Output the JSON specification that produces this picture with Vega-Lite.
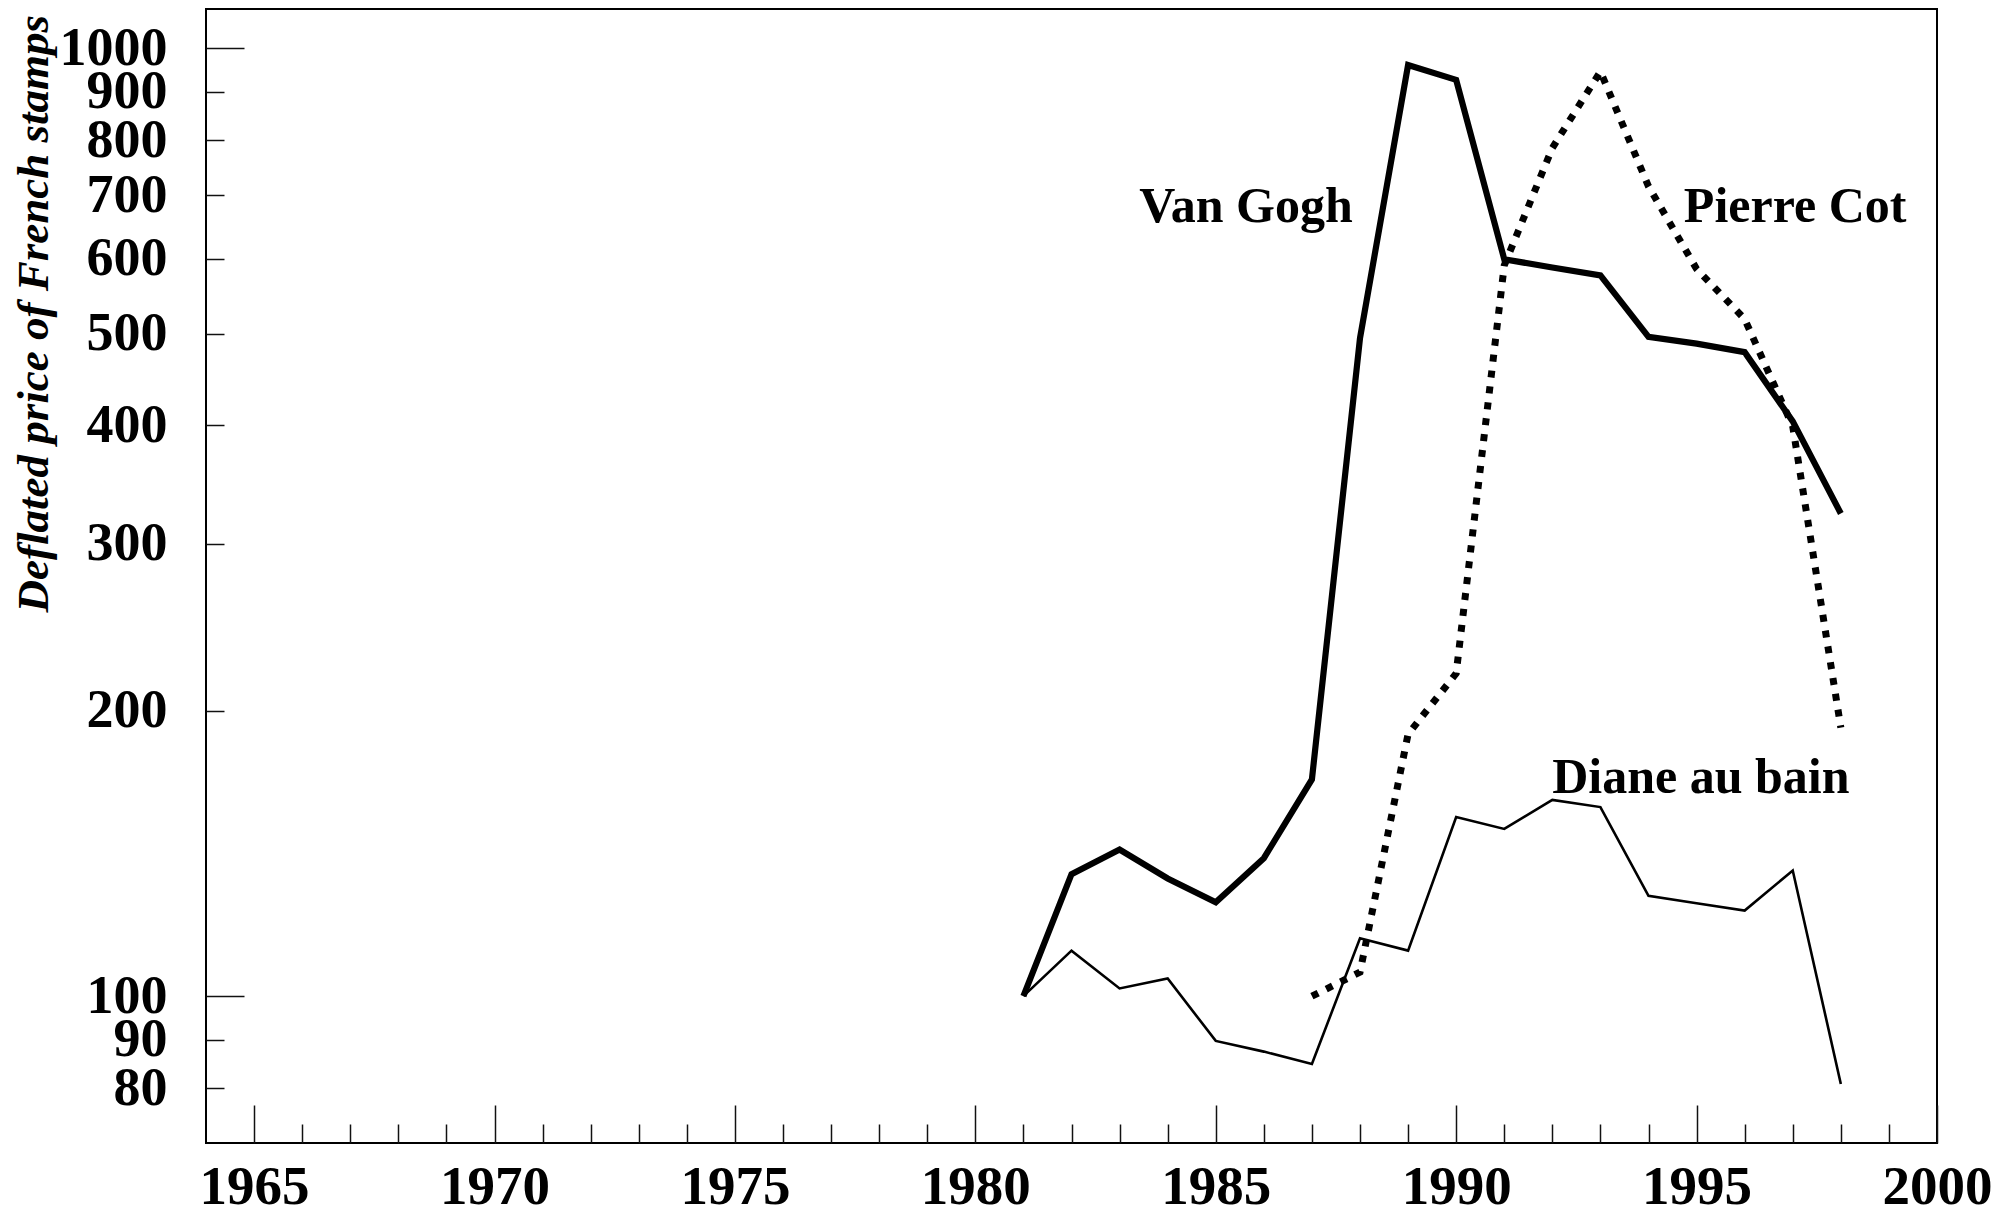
{
  "$schema": "https://vega.github.io/schema/vega-lite/v6.json",
  "autosize": "none",
  "padding": {"left": 206, "top": 9, "right": 62, "bottom": 70},
  "width": 1731,
  "height": 1134,
  "background": "white",
  "config": {
    "view": {"stroke": "#000", "strokeWidth": 2},
    "text": {"font": "Liberation Serif"}
  },
  "datasets": {
    "series": [
      {"series": "Van Gogh", "year": 1981, "price": 100},
      {"series": "Van Gogh", "year": 1982, "price": 134.5},
      {"series": "Van Gogh", "year": 1983, "price": 142.8},
      {"series": "Van Gogh", "year": 1984, "price": 133.1},
      {"series": "Van Gogh", "year": 1985, "price": 125.6},
      {"series": "Van Gogh", "year": 1986, "price": 139.8},
      {"series": "Van Gogh", "year": 1987, "price": 169.3},
      {"series": "Van Gogh", "year": 1988, "price": 494.5},
      {"series": "Van Gogh", "year": 1989, "price": 960},
      {"series": "Van Gogh", "year": 1990, "price": 926},
      {"series": "Van Gogh", "year": 1991, "price": 599},
      {"series": "Van Gogh", "year": 1992, "price": 587},
      {"series": "Van Gogh", "year": 1993, "price": 576},
      {"series": "Van Gogh", "year": 1994, "price": 496},
      {"series": "Van Gogh", "year": 1995, "price": 488},
      {"series": "Van Gogh", "year": 1996, "price": 478},
      {"series": "Van Gogh", "year": 1997, "price": 404},
      {"series": "Van Gogh", "year": 1998, "price": 323},
      {"series": "Pierre Cot", "year": 1987, "price": 100},
      {"series": "Pierre Cot", "year": 1988, "price": 106},
      {"series": "Pierre Cot", "year": 1989, "price": 189},
      {"series": "Pierre Cot", "year": 1990, "price": 219},
      {"series": "Pierre Cot", "year": 1991, "price": 590},
      {"series": "Pierre Cot", "year": 1992, "price": 785},
      {"series": "Pierre Cot", "year": 1993, "price": 945},
      {"series": "Pierre Cot", "year": 1994, "price": 715},
      {"series": "Pierre Cot", "year": 1995, "price": 585},
      {"series": "Pierre Cot", "year": 1996, "price": 518},
      {"series": "Pierre Cot", "year": 1997, "price": 399},
      {"series": "Pierre Cot", "year": 1998, "price": 192},
      {"series": "Diane au bain", "year": 1981, "price": 100},
      {"series": "Diane au bain", "year": 1982, "price": 111.7},
      {"series": "Diane au bain", "year": 1983, "price": 101.9},
      {"series": "Diane au bain", "year": 1984, "price": 104.4},
      {"series": "Diane au bain", "year": 1985, "price": 89.7},
      {"series": "Diane au bain", "year": 1986, "price": 87.4},
      {"series": "Diane au bain", "year": 1987, "price": 84.8},
      {"series": "Diane au bain", "year": 1988, "price": 115.1},
      {"series": "Diane au bain", "year": 1989, "price": 111.7},
      {"series": "Diane au bain", "year": 1990, "price": 154.5},
      {"series": "Diane au bain", "year": 1991, "price": 150.1},
      {"series": "Diane au bain", "year": 1992, "price": 161.1},
      {"series": "Diane au bain", "year": 1993, "price": 158.3},
      {"series": "Diane au bain", "year": 1994, "price": 127.6},
      {"series": "Diane au bain", "year": 1995, "price": 125.3},
      {"series": "Diane au bain", "year": 1996, "price": 123.1},
      {"series": "Diane au bain", "year": 1997, "price": 135.7},
      {"series": "Diane au bain", "year": 1998, "price": 80.8}
    ],
    "labels": [
      {"label": "Van Gogh", "year": 1985.63, "price": 656},
      {"label": "Pierre Cot", "year": 1997.05, "price": 656},
      {"label": "Diane au bain", "year": 1995.09, "price": 163.8}
    ]
  },
  "encoding": {
    "x": {
      "field": "year",
      "type": "quantitative",
      "scale": {"domain": [1964, 2000], "nice": false, "zero": false},
      "axis": {
        "title": null,
        "values": [1965,1966,1967,1968,1969,1970,1971,1972,1973,1974,1975,1976,1977,1978,1979,1980,1981,1982,1983,1984,1985,1986,1987,1988,1989,1990,1991,1992,1993,1994,1995,1996,1997,1998,1999,2000],
        "format": "d",
        "labelExpr": "datum.value % 5 === 0 ? datum.label : ''",
        "domain": false,
        "grid": false,
        "ticks": true,
        "tickSize": {"condition": {"test": "datum.value % 5 === 0", "value": -38}, "value": -19},
        "tickColor": "#111",
        "tickWidth": 1.5,
        "labelPadding": 55,
        "labelBaseline": "top",
        "labelFont": "Liberation Serif",
        "labelFontWeight": "bold",
        "labelFontSize": 55,
        "labelColor": "#000",
        "labelOverlap": false,
        "labelFlush": false,
        "labelBound": false
      }
    },
    "y": {
      "field": "price",
      "type": "quantitative",
      "scale": {"type": "log", "domain": [70, 1100], "nice": false},
      "axis": {
        "title": "Deflated price of French stamps",
        "values": [80,90,100,200,300,400,500,600,700,800,900,1000],
        "format": "d",
        "domain": false,
        "grid": false,
        "ticks": true,
        "tickSize": {"condition": {"test": "datum.value === 100 || datum.value === 1000", "value": -38}, "value": -18},
        "labelPadding": {"condition": {"test": "datum.value === 100 || datum.value === 1000", "value": 77}, "value": 57},
        "tickColor": "#111",
        "tickWidth": 1.5,
        "labelFont": "Liberation Serif",
        "labelFontWeight": "bold",
        "labelFontSize": 54,
        "labelColor": "#000",
        "labelAlign": "right",
        "labelBaseline": "middle",
        "labelOverlap": false,
        "labelFlush": false,
        "labelBound": false,
        "titleFont": "Liberation Serif",
        "titleFontStyle": "italic",
        "titleFontWeight": "bold",
        "titleFontSize": 45,
        "titleColor": "#000",
        "titleAngle": -90,
        "titleAlign": "left",
        "titleBaseline": "alphabetic",
        "titleX": -159,
        "titleY": 603
      }
    }
  },
  "layer": [
    {
      "data": {"name": "series"},
      "transform": [{"filter": "datum.series === 'Diane au bain'"}],
      "mark": {"type": "line", "color": "#000", "strokeWidth": 2.6, "strokeJoin": "miter", "strokeCap": "butt", "clip": true}
    },
    {
      "data": {"name": "series"},
      "transform": [{"filter": "datum.series === 'Pierre Cot'"}],
      "mark": {"type": "line", "color": "#000", "strokeWidth": 7, "strokeDash": [7, 9], "strokeJoin": "miter", "strokeCap": "butt", "clip": true}
    },
    {
      "data": {"name": "series"},
      "transform": [{"filter": "datum.series === 'Van Gogh'"}],
      "mark": {"type": "line", "color": "#000", "strokeWidth": 6.2, "strokeJoin": "miter", "strokeCap": "butt", "clip": true}
    },
    {
      "data": {"name": "labels"},
      "mark": {"type": "text", "font": "Liberation Serif", "fontWeight": "bold", "fontSize": 50, "color": "#000", "align": "center", "baseline": "alphabetic"},
      "encoding": {
        "text": {"field": "label", "type": "nominal"}
      }
    }
  ]
}
